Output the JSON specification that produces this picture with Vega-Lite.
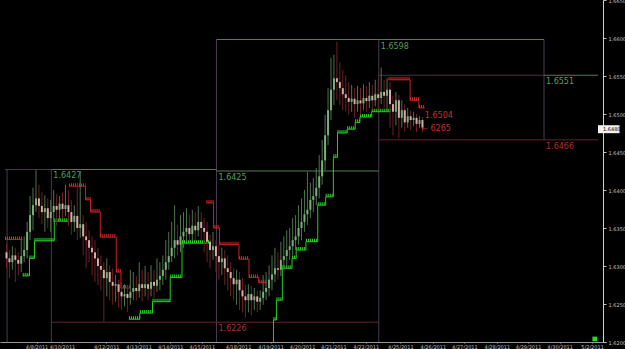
{
"$schema":"https://vega.github.io/schema/vega-lite/v6.json",
"width":603,"height":342,"autosize":"none",
"padding":{"left":0,"top":0,"right":22,"bottom":7},
"background":"#000000",
"config":{"view":{"stroke":null},"font":"DejaVu Sans"},
"resolve":{"scale":{"color":"independent"}},
"datasets":{
"bars":[
{"i":0,"o":1.6318,"h":1.6329,"l":1.6297,"c":1.6310},
{"i":1,"o":1.6310,"h":1.6321,"l":1.6284,"c":1.6305},
{"i":2,"o":1.6305,"h":1.6326,"l":1.6295,"c":1.6314},
{"i":3,"o":1.6314,"h":1.6324,"l":1.6279,"c":1.6308},
{"i":4,"o":1.6308,"h":1.6318,"l":1.6288,"c":1.6303},
{"i":5,"o":1.6303,"h":1.6334,"l":1.6292,"c":1.6313},
{"i":6,"o":1.6313,"h":1.6339,"l":1.6305,"c":1.6321},
{"i":7,"o":1.6321,"h":1.6358,"l":1.6310,"c":1.6345},
{"i":8,"o":1.6345,"h":1.6392,"l":1.6334,"c":1.6367},
{"i":9,"o":1.6367,"h":1.6403,"l":1.6347,"c":1.6380},
{"i":10,"o":1.6380,"h":1.6426,"l":1.6371,"c":1.6389},
{"i":11,"o":1.6389,"h":1.6407,"l":1.6363,"c":1.6379},
{"i":12,"o":1.6379,"h":1.6397,"l":1.6355,"c":1.6371},
{"i":13,"o":1.6371,"h":1.6393,"l":1.6345,"c":1.6376},
{"i":14,"o":1.6376,"h":1.6389,"l":1.6350,"c":1.6363},
{"i":15,"o":1.6363,"h":1.6387,"l":1.6345,"c":1.6371},
{"i":16,"o":1.6371,"h":1.6400,"l":1.6358,"c":1.6379},
{"i":17,"o":1.6379,"h":1.6395,"l":1.6353,"c":1.6374},
{"i":18,"o":1.6374,"h":1.6392,"l":1.6360,"c":1.6382},
{"i":19,"o":1.6382,"h":1.6397,"l":1.6363,"c":1.6375},
{"i":20,"o":1.6375,"h":1.6407,"l":1.6366,"c":1.6380},
{"i":21,"o":1.6380,"h":1.6400,"l":1.6353,"c":1.6371},
{"i":22,"o":1.6371,"h":1.6387,"l":1.6341,"c":1.6358},
{"i":23,"o":1.6358,"h":1.6380,"l":1.6345,"c":1.6366},
{"i":24,"o":1.6366,"h":1.6408,"l":1.6334,"c":1.6350},
{"i":25,"o":1.6350,"h":1.6424,"l":1.6337,"c":1.6355},
{"i":26,"o":1.6355,"h":1.6367,"l":1.6314,"c":1.6339},
{"i":27,"o":1.6339,"h":1.6358,"l":1.6297,"c":1.6334},
{"i":28,"o":1.6334,"h":1.6347,"l":1.6305,"c":1.6324},
{"i":29,"o":1.6324,"h":1.6339,"l":1.6288,"c":1.6318},
{"i":30,"o":1.6318,"h":1.6334,"l":1.6279,"c":1.6310},
{"i":31,"o":1.6310,"h":1.6324,"l":1.6275,"c":1.6300},
{"i":32,"o":1.6300,"h":1.6314,"l":1.6268,"c":1.6295},
{"i":33,"o":1.6295,"h":1.6305,"l":1.6226,"c":1.6284},
{"i":34,"o":1.6284,"h":1.6310,"l":1.6260,"c":1.6292},
{"i":35,"o":1.6292,"h":1.6301,"l":1.6255,"c":1.6279},
{"i":36,"o":1.6279,"h":1.6297,"l":1.6249,"c":1.6274},
{"i":37,"o":1.6274,"h":1.6288,"l":1.6253,"c":1.6276},
{"i":38,"o":1.6276,"h":1.6282,"l":1.6245,"c":1.6266},
{"i":39,"o":1.6266,"h":1.6279,"l":1.6242,"c":1.6260},
{"i":40,"o":1.6260,"h":1.6276,"l":1.6247,"c":1.6263},
{"i":41,"o":1.6263,"h":1.6274,"l":1.6239,"c":1.6258},
{"i":42,"o":1.6258,"h":1.6295,"l":1.6249,"c":1.6266},
{"i":43,"o":1.6266,"h":1.6292,"l":1.6255,"c":1.6271},
{"i":44,"o":1.6271,"h":1.6287,"l":1.6255,"c":1.6267},
{"i":45,"o":1.6267,"h":1.6305,"l":1.6258,"c":1.6276},
{"i":46,"o":1.6276,"h":1.6295,"l":1.6253,"c":1.6271},
{"i":47,"o":1.6271,"h":1.6300,"l":1.6260,"c":1.6276},
{"i":48,"o":1.6276,"h":1.6292,"l":1.6255,"c":1.6270},
{"i":49,"o":1.6270,"h":1.6301,"l":1.6260,"c":1.6279},
{"i":50,"o":1.6279,"h":1.6295,"l":1.6258,"c":1.6274},
{"i":51,"o":1.6274,"h":1.6310,"l":1.6266,"c":1.6282},
{"i":52,"o":1.6282,"h":1.6305,"l":1.6268,"c":1.6287},
{"i":53,"o":1.6287,"h":1.6314,"l":1.6275,"c":1.6295},
{"i":54,"o":1.6295,"h":1.6334,"l":1.6282,"c":1.6305},
{"i":55,"o":1.6305,"h":1.6345,"l":1.6295,"c":1.6313},
{"i":56,"o":1.6313,"h":1.6358,"l":1.6305,"c":1.6324},
{"i":57,"o":1.6324,"h":1.6380,"l":1.6310,"c":1.6334},
{"i":58,"o":1.6334,"h":1.6354,"l":1.6314,"c":1.6328},
{"i":59,"o":1.6328,"h":1.6367,"l":1.6318,"c":1.6339},
{"i":60,"o":1.6339,"h":1.6371,"l":1.6324,"c":1.6345},
{"i":61,"o":1.6345,"h":1.6376,"l":1.6332,"c":1.6350},
{"i":62,"o":1.6350,"h":1.6368,"l":1.6328,"c":1.6342},
{"i":63,"o":1.6342,"h":1.6374,"l":1.6334,"c":1.6353},
{"i":64,"o":1.6353,"h":1.6371,"l":1.6332,"c":1.6347},
{"i":65,"o":1.6347,"h":1.6379,"l":1.6339,"c":1.6358},
{"i":66,"o":1.6358,"h":1.6371,"l":1.6334,"c":1.6350},
{"i":67,"o":1.6350,"h":1.6363,"l":1.6318,"c":1.6345},
{"i":68,"o":1.6345,"h":1.6358,"l":1.6305,"c":1.6332},
{"i":69,"o":1.6332,"h":1.6341,"l":1.6297,"c":1.6321},
{"i":70,"o":1.6321,"h":1.6345,"l":1.6308,"c":1.6326},
{"i":71,"o":1.6326,"h":1.6334,"l":1.6292,"c":1.6313},
{"i":72,"o":1.6313,"h":1.6328,"l":1.6282,"c":1.6305},
{"i":73,"o":1.6305,"h":1.6324,"l":1.6288,"c":1.6310},
{"i":74,"o":1.6310,"h":1.6321,"l":1.6275,"c":1.6297},
{"i":75,"o":1.6297,"h":1.6314,"l":1.6268,"c":1.6292},
{"i":76,"o":1.6292,"h":1.6305,"l":1.6260,"c":1.6284},
{"i":77,"o":1.6284,"h":1.6297,"l":1.6255,"c":1.6276},
{"i":78,"o":1.6276,"h":1.6295,"l":1.6249,"c":1.6282},
{"i":79,"o":1.6282,"h":1.6292,"l":1.6242,"c":1.6268},
{"i":80,"o":1.6268,"h":1.6284,"l":1.6239,"c":1.6260},
{"i":81,"o":1.6260,"h":1.6275,"l":1.6232,"c":1.6255},
{"i":82,"o":1.6255,"h":1.6276,"l":1.6239,"c":1.6263},
{"i":83,"o":1.6263,"h":1.6274,"l":1.6235,"c":1.6255},
{"i":84,"o":1.6255,"h":1.6271,"l":1.6242,"c":1.6260},
{"i":85,"o":1.6260,"h":1.6268,"l":1.6239,"c":1.6253},
{"i":86,"o":1.6253,"h":1.6268,"l":1.6242,"c":1.6258},
{"i":87,"o":1.6258,"h":1.6288,"l":1.6249,"c":1.6266},
{"i":88,"o":1.6266,"h":1.6292,"l":1.6255,"c":1.6271},
{"i":89,"o":1.6271,"h":1.6301,"l":1.6260,"c":1.6282},
{"i":90,"o":1.6282,"h":1.6314,"l":1.6268,"c":1.6289},
{"i":91,"o":1.6289,"h":1.6324,"l":1.6279,"c":1.6297},
{"i":92,"o":1.6297,"h":1.6318,"l":1.6282,"c":1.6295},
{"i":93,"o":1.6295,"h":1.6332,"l":1.6287,"c":1.6308},
{"i":94,"o":1.6308,"h":1.6339,"l":1.6295,"c":1.6313},
{"i":95,"o":1.6313,"h":1.6347,"l":1.6301,"c":1.6321},
{"i":96,"o":1.6321,"h":1.6350,"l":1.6308,"c":1.6326},
{"i":97,"o":1.6326,"h":1.6363,"l":1.6314,"c":1.6334},
{"i":98,"o":1.6334,"h":1.6367,"l":1.6321,"c":1.6339},
{"i":99,"o":1.6339,"h":1.6380,"l":1.6328,"c":1.6350},
{"i":100,"o":1.6350,"h":1.6389,"l":1.6334,"c":1.6358},
{"i":101,"o":1.6358,"h":1.6400,"l":1.6345,"c":1.6368},
{"i":102,"o":1.6368,"h":1.6424,"l":1.6354,"c":1.6374},
{"i":103,"o":1.6374,"h":1.6410,"l":1.6363,"c":1.6387},
{"i":104,"o":1.6387,"h":1.6416,"l":1.6371,"c":1.6392},
{"i":105,"o":1.6392,"h":1.6429,"l":1.6380,"c":1.6403},
{"i":106,"o":1.6403,"h":1.6446,"l":1.6389,"c":1.6418},
{"i":107,"o":1.6418,"h":1.6466,"l":1.6407,"c":1.6439},
{"i":108,"o":1.6439,"h":1.6499,"l":1.6426,"c":1.6472},
{"i":109,"o":1.6472,"h":1.6534,"l":1.6459,"c":1.6505},
{"i":110,"o":1.6505,"h":1.6574,"l":1.6492,"c":1.6532},
{"i":111,"o":1.6532,"h":1.6578,"l":1.6512,"c":1.6547},
{"i":112,"o":1.6547,"h":1.6595,"l":1.6518,"c":1.6542},
{"i":113,"o":1.6542,"h":1.6568,"l":1.6512,"c":1.6534},
{"i":114,"o":1.6534,"h":1.6558,"l":1.6505,"c":1.6526},
{"i":115,"o":1.6526,"h":1.6551,"l":1.6503,"c":1.6521},
{"i":116,"o":1.6521,"h":1.6542,"l":1.6499,"c":1.6516},
{"i":117,"o":1.6516,"h":1.6538,"l":1.6503,"c":1.6520},
{"i":118,"o":1.6520,"h":1.6534,"l":1.6495,"c":1.6513},
{"i":119,"o":1.6513,"h":1.6537,"l":1.6503,"c":1.6518},
{"i":120,"o":1.6518,"h":1.6534,"l":1.6499,"c":1.6514},
{"i":121,"o":1.6514,"h":1.6539,"l":1.6505,"c":1.6521},
{"i":122,"o":1.6521,"h":1.6537,"l":1.6503,"c":1.6517},
{"i":123,"o":1.6517,"h":1.6542,"l":1.6508,"c":1.6524},
{"i":124,"o":1.6524,"h":1.6538,"l":1.6505,"c":1.6518},
{"i":125,"o":1.6518,"h":1.6545,"l":1.6510,"c":1.6526},
{"i":126,"o":1.6526,"h":1.6547,"l":1.6505,"c":1.6521},
{"i":127,"o":1.6521,"h":1.6561,"l":1.6513,"c":1.6529},
{"i":128,"o":1.6529,"h":1.6545,"l":1.6508,"c":1.6524},
{"i":129,"o":1.6524,"h":1.6547,"l":1.6503,"c":1.6532},
{"i":130,"o":1.6532,"h":1.6542,"l":1.6482,"c":1.6513},
{"i":131,"o":1.6513,"h":1.6524,"l":1.6472,"c":1.6503},
{"i":132,"o":1.6503,"h":1.6529,"l":1.6485,"c":1.6518},
{"i":133,"o":1.6518,"h":1.6525,"l":1.6468,"c":1.6495},
{"i":134,"o":1.6495,"h":1.6518,"l":1.6482,"c":1.6505},
{"i":135,"o":1.6505,"h":1.6513,"l":1.6476,"c":1.6489},
{"i":136,"o":1.6489,"h":1.6508,"l":1.6482,"c":1.6497},
{"i":137,"o":1.6497,"h":1.6505,"l":1.6479,"c":1.6492},
{"i":138,"o":1.6492,"h":1.6503,"l":1.6484,"c":1.6495},
{"i":139,"o":1.6495,"h":1.6500,"l":1.6476,"c":1.6487},
{"i":140,"o":1.6487,"h":1.6497,"l":1.6482,"c":1.6492},
{"i":141,"o":1.6492,"h":1.6496,"l":1.6476,"c":1.6482}
],
"levels":[
{"a":-0.5,"b":15.2,"p":1.6427,"kind":"hi0","label":""},
{"a":15.2,"b":71.2,"p":1.6427,"kind":"hi","label":"1.6427"},
{"a":71.2,"b":126.2,"p":1.6425,"kind":"hi","label":"1.6425"},
{"a":15.2,"b":71.2,"p":1.6226,"kind":"lo","label":""},
{"a":71.2,"b":126.2,"p":1.6226,"kind":"lo","label":"1.6226"},
{"a":71.2,"b":126.2,"p":1.6598,"kind":"hi","label":""},
{"a":126.2,"b":182.2,"p":1.6598,"kind":"hi","label":"1.6598"},
{"a":126.2,"b":182.2,"p":1.6551,"kind":"mid","label":""},
{"a":182.2,"b":200.5,"p":1.6551,"kind":"hi","label":"1.6551"},
{"a":126.2,"b":182.2,"p":1.6466,"kind":"lo","label":""},
{"a":182.2,"b":200.5,"p":1.6466,"kind":"lo","label":"1.6466"}
],
"seps":[
{"x":0.2,"top":1.6427,"bot":1.62},
{"x":15.2,"top":1.6427,"bot":1.62},
{"x":71.2,"top":1.6598,"bot":1.62},
{"x":126.2,"top":1.6598,"bot":1.62},
{"x":182.2,"top":1.6598,"bot":1.6466}
],
"stops":[
{"s":"R1","side":"r","k":0,"a":-0.5,"b":5.5,"p":1.6335},
{"s":"R2","side":"r","k":0,"a":21.2,"b":26.8,"p":1.6405},
{"s":"R2","side":"r","k":1,"a":26.8,"b":28.5,"p":1.6387},
{"s":"R2","side":"r","k":2,"a":28.5,"b":31.8,"p":1.6371},
{"s":"R2","side":"r","k":3,"a":31.8,"b":37.2,"p":1.6338},
{"s":"R2","side":"r","k":4,"a":37.2,"b":38.8,"p":1.6292},
{"s":"R2","side":"r","k":5,"a":38.8,"b":41.8,"p":1.6271},
{"s":"R3","side":"r","k":0,"a":67.8,"b":70.2,"p":1.6383},
{"s":"R3","side":"r","k":1,"a":70.2,"b":72.2,"p":1.6350},
{"s":"R3","side":"r","k":2,"a":72.2,"b":78.8,"p":1.6328},
{"s":"R3","side":"r","k":3,"a":78.8,"b":82.2,"p":1.6309},
{"s":"R3","side":"r","k":4,"a":82.2,"b":85.5,"p":1.6285},
{"s":"R3","side":"r","k":5,"a":85.5,"b":88.2,"p":1.6278},
{"s":"R4","side":"r","k":0,"a":129.5,"b":136.8,"p":1.6545},
{"s":"R4","side":"r","k":1,"a":136.8,"b":139.8,"p":1.6518},
{"s":"R4","side":"r","k":2,"a":139.8,"b":141.8,"p":1.6508},
{"s":"G1","side":"g","k":0,"a":5.5,"b":7.8,"p":1.6287},
{"s":"G1","side":"g","k":1,"a":7.8,"b":9.5,"p":1.6310},
{"s":"G1","side":"g","k":2,"a":9.5,"b":16.2,"p":1.6333},
{"s":"G1","side":"g","k":3,"a":16.2,"b":21.2,"p":1.6359},
{"s":"G2","side":"g","k":0,"a":41.5,"b":45.2,"p":1.6230},
{"s":"G2","side":"g","k":1,"a":45.2,"b":49.5,"p":1.6238},
{"s":"G2","side":"g","k":2,"a":49.5,"b":55.5,"p":1.6253},
{"s":"G2","side":"g","k":3,"a":55.5,"b":59.5,"p":1.6285},
{"s":"G2","side":"g","k":4,"a":59.5,"b":68.8,"p":1.6330},
{"s":"G3","side":"g","k":0,"a":90.5,"b":90.5,"p":1.6200},
{"s":"G3","side":"g","k":1,"a":90.5,"b":91.5,"p":1.6229},
{"s":"G3","side":"g","k":2,"a":91.5,"b":93.5,"p":1.6255},
{"s":"G3","side":"g","k":3,"a":93.5,"b":96.8,"p":1.6297},
{"s":"G3","side":"g","k":4,"a":96.8,"b":98.2,"p":1.6310},
{"s":"G3","side":"g","k":5,"a":98.2,"b":101.5,"p":1.6321},
{"s":"G3","side":"g","k":6,"a":101.5,"b":105.5,"p":1.6332},
{"s":"G3","side":"g","k":7,"a":105.5,"b":108.2,"p":1.6380},
{"s":"G3","side":"g","k":8,"a":108.2,"b":110.8,"p":1.6391},
{"s":"G3","side":"g","k":9,"a":110.8,"b":112.2,"p":1.6443},
{"s":"G3","side":"g","k":10,"a":112.2,"b":115.5,"p":1.6475},
{"s":"G3","side":"g","k":11,"a":115.5,"b":118.2,"p":1.6480},
{"s":"G3","side":"g","k":12,"a":118.2,"b":119.8,"p":1.6489},
{"s":"G3","side":"g","k":13,"a":119.8,"b":123.8,"p":1.6496},
{"s":"G3","side":"g","k":14,"a":123.8,"b":130.2,"p":1.6503}
],
"notes":[
{"t":"1.6504","i":141.8,"p":1.6497},
{"t":"← 6265","i":140.6,"p":1.6480}
]
},
"layer":[
{"data":{"name":"seps"},"mark":{"type":"rule","strokeWidth":1,"color":"#4a3a50"},
 "encoding":{"x":{"field":"x","type":"quantitative","title":null,"scale":{"domain":[-0.5,200.5],"nice":false,"zero":false}},
 "y":{"field":"bot","type":"quantitative","title":null,"scale":{"domain":[1.62,1.665],"nice":false,"zero":false}},"y2":{"field":"top"}}},
{"data":{"name":"levels"},"mark":{"type":"rule","strokeWidth":1},
 "encoding":{"x":{"field":"a","type":"quantitative","title":null,"scale":{"domain":[-0.5,200.5],"nice":false,"zero":false}},"x2":{"field":"b"},
 "y":{"field":"p","type":"quantitative","title":null,"scale":{"domain":[1.62,1.665],"nice":false,"zero":false}},
 "color":{"field":"kind","type":"nominal","legend":null,"scale":{"domain":["hi0","hi","mid","lo"],"range":["#4b3b52","#587a58","#4d2f4d","#5e2430"]}}}},
{"data":{"name":"levels"},"transform":[{"filter":"datum.label != ''"}],
 "mark":{"type":"text","align":"left","baseline":"top","dx":2,"dy":3,"fontSize":8},
 "encoding":{"x":{"field":"a","type":"quantitative","title":null,"scale":{"domain":[-0.5,200.5],"nice":false,"zero":false}},
 "y":{"field":"p","type":"quantitative","title":null,"scale":{"domain":[1.62,1.665],"nice":false,"zero":false}},
 "text":{"field":"label"},
 "color":{"field":"kind","type":"nominal","legend":null,"scale":{"domain":["hi","lo"],"range":["#5c9c5c","#a83232"]}}}},
{"data":{"name":"stops"},"transform":[{"fold":["a","b"],"as":["end","x"]}],
 "mark":{"type":"line","strokeWidth":1},
 "encoding":{"x":{"field":"x","type":"quantitative","title":null,"scale":{"domain":[-0.5,200.5],"nice":false,"zero":false}},
 "y":{"field":"p","type":"quantitative","title":null,"scale":{"domain":[1.62,1.665],"nice":false,"zero":false}},
 "detail":{"field":"s"},
 "order":[{"field":"k","type":"quantitative"},{"field":"x","type":"quantitative"}],
 "color":{"field":"side","type":"nominal","legend":null,"scale":{"domain":["r","g"],"range":["#d01f1f","#1fcf1f"]}}}},
{"data":{"name":"stops"},
 "mark":{"type":"rule","strokeWidth":3,"strokeDash":[1,1],"yOffset":-1.5},
 "encoding":{"x":{"field":"a","type":"quantitative","title":null,"scale":{"domain":[-0.5,200.5],"nice":false,"zero":false}},"x2":{"field":"b"},
 "y":{"field":"p","type":"quantitative","title":null,"scale":{"domain":[1.62,1.665],"nice":false,"zero":false}},
 "color":{"field":"side","type":"nominal","legend":null,"scale":{"domain":["r","g"],"range":["#e02525","#25dd25"]}}}},
{"data":{"name":"bars"},"transform":[{"calculate":"datum.c >= datum.o ? 'up' : 'dn'","as":"dir"}],
 "mark":{"type":"rule","strokeWidth":1},
 "encoding":{"x":{"field":"i","type":"quantitative","scale":{"domain":[-0.5,200.5],"nice":false,"zero":false},
   "axis":{"title":null,"grid":false,"orient":"bottom","tickCount":100,"values":[10.2,18.8,33.8,44.8,55.5,66.2,78.5,89.5,100.2,110.8,121.8,133.5,144.5,155.2,166.2,176.8,187.5,198.5],
   "labelExpr":"['4/8/2011','4/10/2011','4/12/2011','4/13/2011','4/14/2011','4/15/2011','4/18/2011','4/19/2011','4/20/2011','4/21/2011','4/22/2011','4/25/2011','4/26/2011','4/27/2011','4/28/2011','4/29/2011','4/30/2011','5/2/2011'][indexof([10.2,18.8,33.8,44.8,55.5,66.2,78.5,89.5,100.2,110.8,121.8,133.5,144.5,155.2,166.2,176.8,187.5,198.5], datum.value)]",
   "labelFontSize":5,"labelColor":"#c0c0c0","labelPadding":1,"tickSize":1,"tickColor":"#9a9a9a","domainColor":"#9a9a9a","labelFlush":false,"labelOverlap":false}},
 "y":{"field":"l","type":"quantitative","scale":{"domain":[1.62,1.665],"nice":false,"zero":false},
   "axis":{"title":null,"grid":false,"orient":"right","tickCount":100,"values":[1.62,1.625,1.63,1.635,1.64,1.645,1.65,1.655,1.66,1.665],"format":".4f",
   "labelFontSize":5,"labelColor":"#c0c0c0","labelPadding":2,"tickSize":3,"tickColor":"#c0c0c0","domainColor":"#d0d0d0","labelOverlap":false,"labelFlush":false}},
 "y2":{"field":"h"},
 "color":{"field":"dir","type":"nominal","legend":null,"scale":{"domain":["up","dn"],"range":["#4f744f","#6e2222"]}}}},
{"data":{"name":"bars"},"transform":[{"calculate":"datum.c >= datum.o ? 'up' : 'dn'","as":"dir"}],
 "mark":{"type":"bar","width":2},
 "encoding":{"x":{"field":"i","type":"quantitative","title":null,"scale":{"domain":[-0.5,200.5],"nice":false,"zero":false}},
 "y":{"field":"o","type":"quantitative","title":null,"scale":{"domain":[1.62,1.665],"nice":false,"zero":false}},
 "y2":{"field":"c"},
 "color":{"field":"dir","type":"nominal","legend":null,"scale":{"domain":["up","dn"],"range":["#7cae7c","#dcaaaa"]}}}},
{"data":{"name":"notes"},"mark":{"type":"text","align":"left","baseline":"middle","fontSize":8,"color":"#c03030"},
 "encoding":{"x":{"field":"i","type":"quantitative","title":null,"scale":{"domain":[-0.5,200.5],"nice":false,"zero":false}},
 "y":{"field":"p","type":"quantitative","title":null,"scale":{"domain":[1.62,1.665],"nice":false,"zero":false}},
 "text":{"field":"t"}}},
{"data":{"values":[{"p":1.648,"t":"1.6480"}]},"mark":{"type":"rect","color":"#f0f0f0","yOffset":-4,"y2Offset":4},
 "encoding":{"x":{"datum":200.5,"type":"quantitative","scale":{"domain":[-0.5,200.5],"nice":false,"zero":false}},"x2":{"datum":207.8},
 "y":{"field":"p","type":"quantitative","title":null,"scale":{"domain":[1.62,1.665],"nice":false,"zero":false}},"y2":{"field":"p"}}},
{"data":{"values":[{"p":1.648,"t":"1.6480"}]},"mark":{"type":"text","align":"left","baseline":"middle","dx":5,"fontSize":5,"color":"#000000"},
 "encoding":{"x":{"datum":200.5,"type":"quantitative","scale":{"domain":[-0.5,200.5],"nice":false,"zero":false}},
 "y":{"field":"p","type":"quantitative","title":null,"scale":{"domain":[1.62,1.665],"nice":false,"zero":false}},"text":{"field":"t"}}},
{"data":{"values":[{"i":199.4,"p":1.6204}]},"mark":{"type":"square","size":22,"filled":true,"color":"#22dd22","opacity":1},
 "encoding":{"x":{"field":"i","type":"quantitative","title":null,"scale":{"domain":[-0.5,200.5],"nice":false,"zero":false}},
 "y":{"field":"p","type":"quantitative","title":null,"scale":{"domain":[1.62,1.665],"nice":false,"zero":false}}}}
]
}
